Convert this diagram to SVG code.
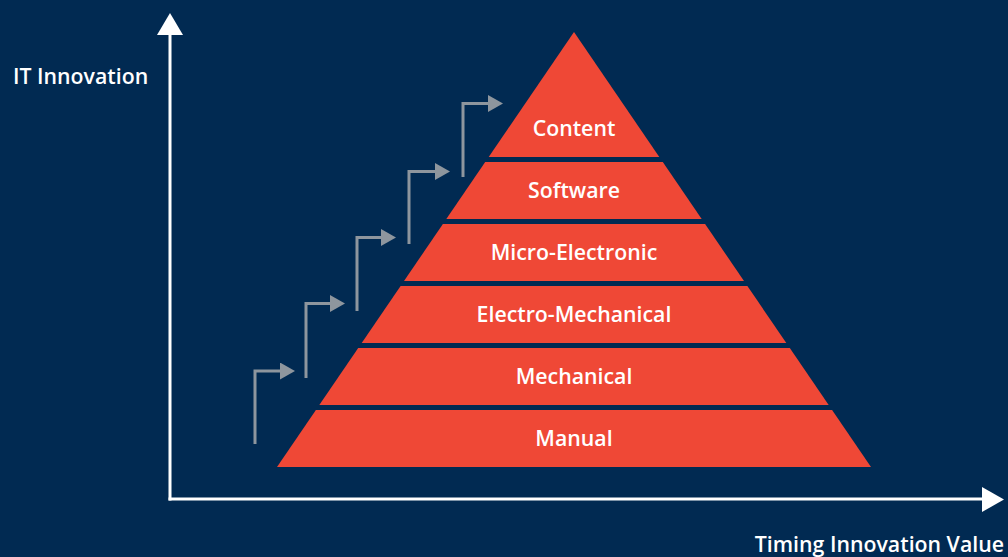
<svg xmlns="http://www.w3.org/2000/svg" width="1008" height="557" viewBox="0 0 1008 557">
  <defs>
    <marker id="stepHead" viewBox="0 0 15 17" refX="0" refY="8.5" markerWidth="15" markerHeight="17" markerUnits="userSpaceOnUse" orient="auto">
      <path d="M0,0 L15,8.5 L0,17 Z" fill="#8e969e"/>
    </marker>
  </defs>
  <style>
    .axis { stroke: #ffffff; stroke-width: 3; fill: none; }
    .axisHead { fill: #ffffff; }
    .layer { fill: #ef4836; }
    .label { font-family: "Open Sans", "Liberation Sans", sans-serif; font-weight: 600; font-size: 21.3px; fill: #ffffff; }
    .step { stroke: #8e969e; stroke-width: 3; fill: none; marker-end: url(#stepHead); }
  </style>

  <rect width="1008" height="557" fill="#012a52"/>

  <!-- axes -->
  <g id="axes">
    <line class="axis" x1="170" y1="500.5" x2="170" y2="34"/>
    <polygon class="axisHead" points="170,13 157,35 183,35"/>
    <line class="axis" x1="168.5" y1="499" x2="983" y2="499"/>
    <polygon class="axisHead" points="1004,499.5 982,487 982,512"/>
    <text class="label" x="13" y="84">IT Innovation</text>
    <text class="label" x="1004" y="552" text-anchor="end">Timing Innovation Value</text>
  </g>

  <!-- pyramid layers, top to bottom -->
  <g id="content">
    <polygon class="layer" points="574,32 659.3,157 488.7,157"/>
    <text class="label" x="574" y="135.5" text-anchor="middle">Content</text>
  </g>
  <g id="software">
    <polygon class="layer" points="485.2,162 662.8,162 701.7,219 446.3,219"/>
    <text class="label" x="574" y="197.5" text-anchor="middle">Software</text>
  </g>
  <g id="micro-electronic">
    <polygon class="layer" points="442.9,224 705.1,224 744,281 404,281"/>
    <text class="label" x="574" y="259.5" text-anchor="middle">Micro-Electronic</text>
  </g>
  <g id="electro-mechanical">
    <polygon class="layer" points="400.6,286 747.4,286 786.3,343 361.7,343"/>
    <text class="label" x="574" y="321.5" text-anchor="middle">Electro-Mechanical</text>
  </g>
  <g id="mechanical">
    <polygon class="layer" points="358.2,348 789.8,348 828.7,405 319.3,405"/>
    <text class="label" x="574" y="383.5" text-anchor="middle">Mechanical</text>
  </g>
  <g id="manual">
    <polygon class="layer" points="315.9,410 832.1,410 871,467 277,467"/>
    <text class="label" x="574" y="445.5" text-anchor="middle">Manual</text>
  </g>

  <!-- rising step arrows -->
  <g id="connectors">
    <path class="step" d="M255,444 V371 H280"/>
    <path class="step" d="M306,378 V303.5 H330"/>
    <path class="step" d="M357,311 V237.5 H381"/>
    <path class="step" d="M409,244 V171.5 H435"/>
    <path class="step" d="M463,177 V103.5 H488"/>
  </g>
</svg>
